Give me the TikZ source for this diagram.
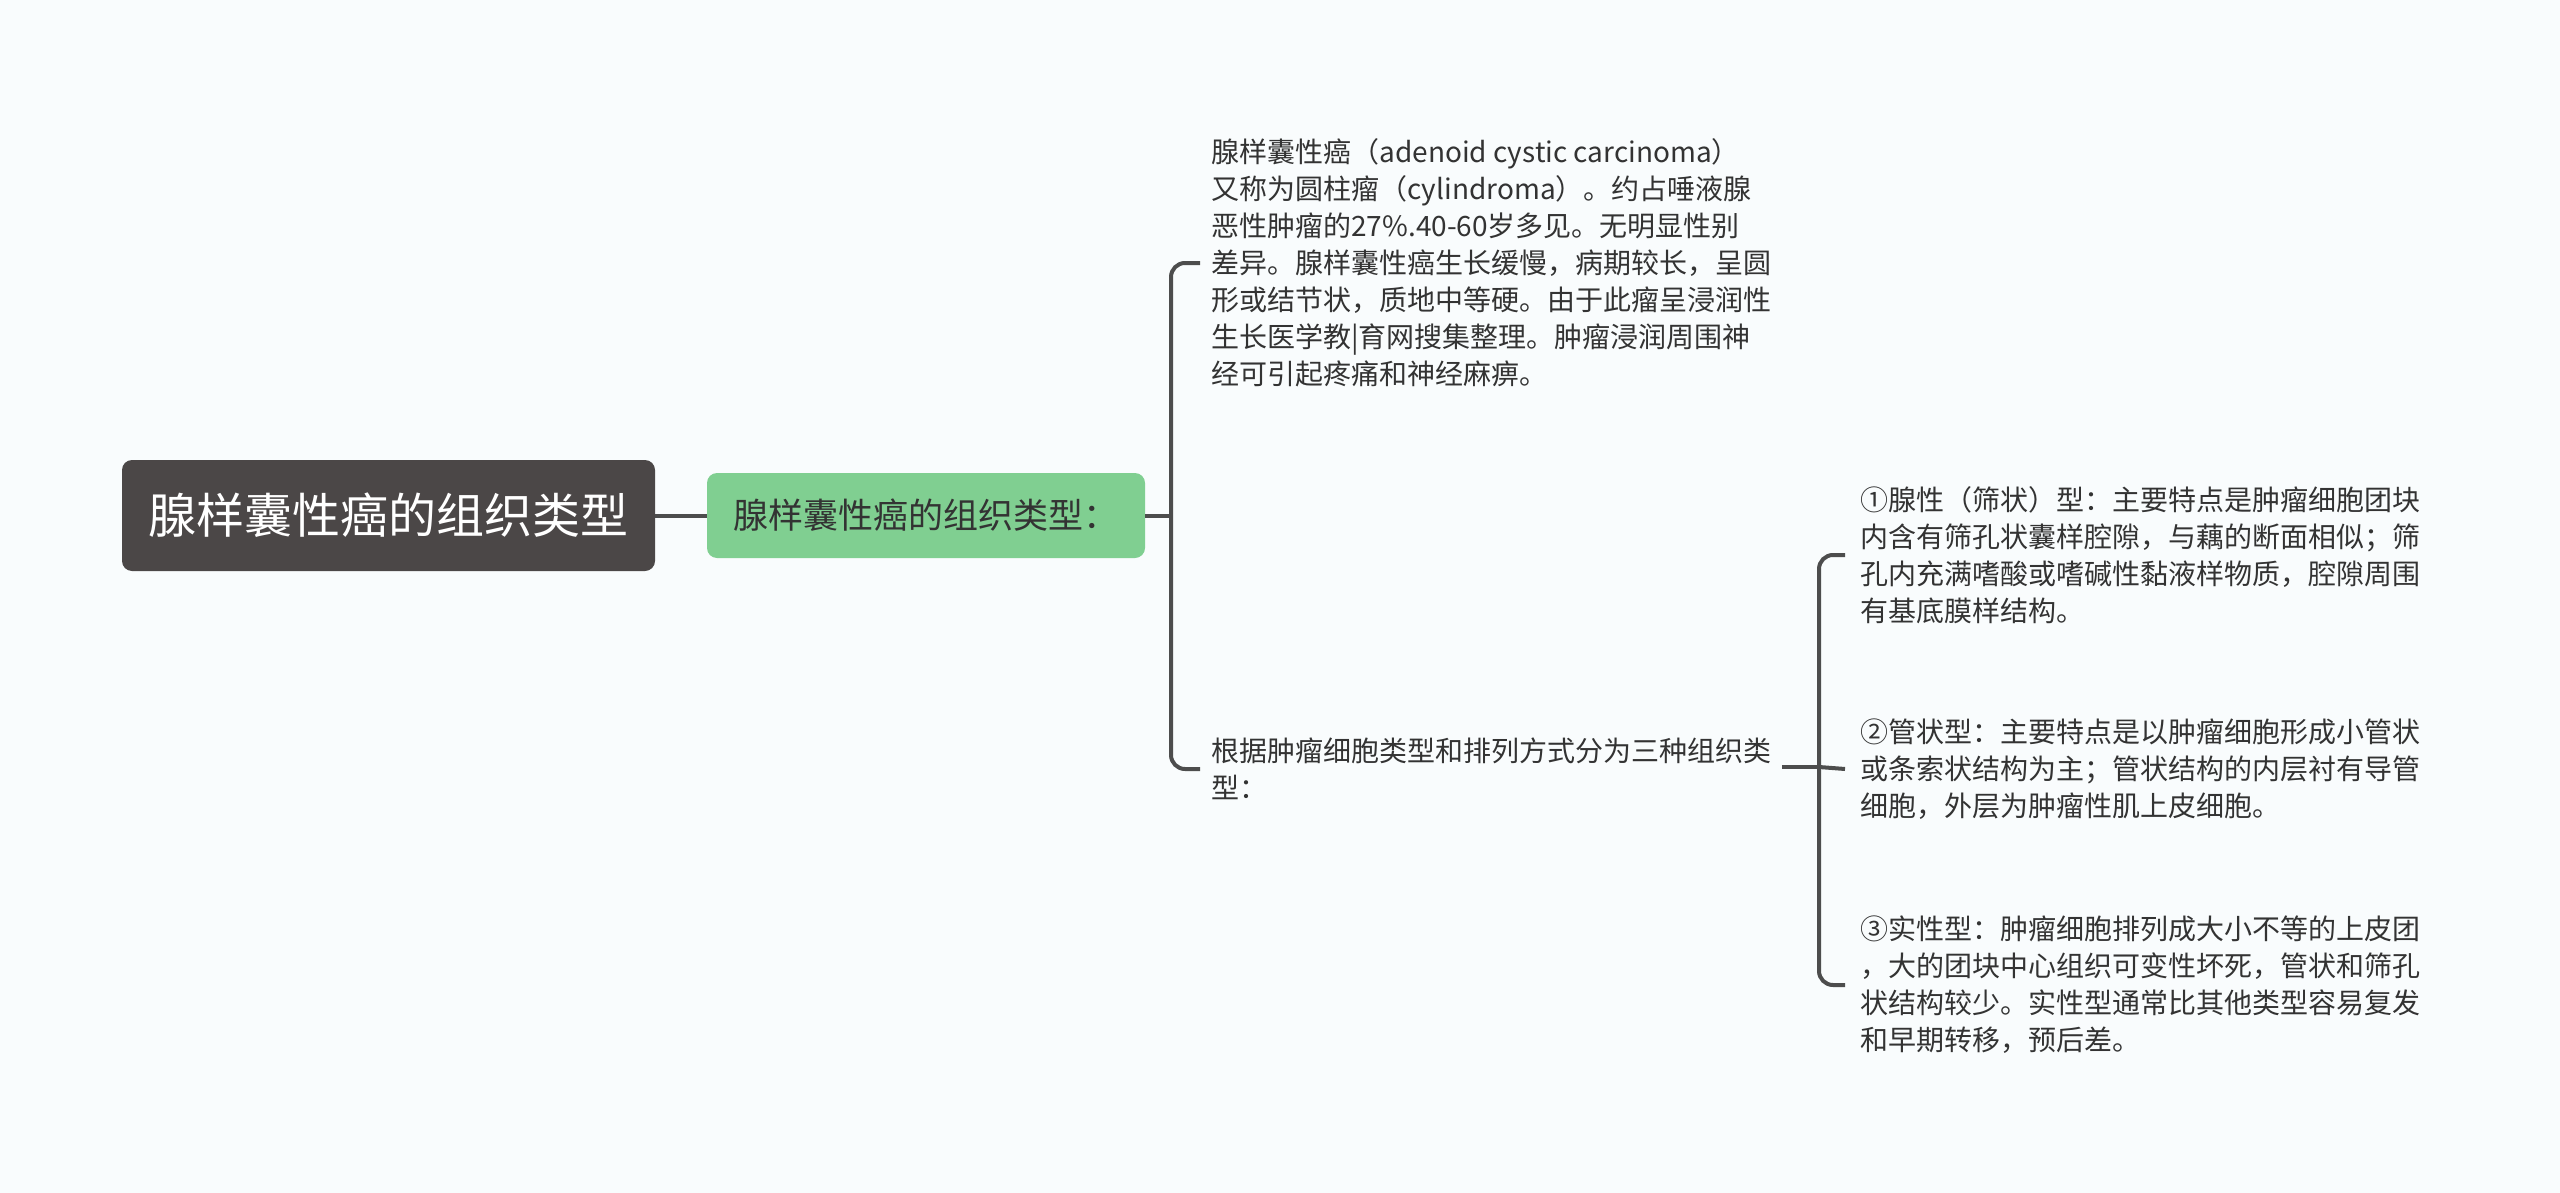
\documentclass[tikz,border=0pt]{standalone}
\usepackage{fontspec}
\newfontfamily\cjk{Noto Sans CJK SC}
\usetikzlibrary{positioning}

\definecolor{pagebg}{HTML}{F9FCFD}
\definecolor{rootfill}{HTML}{4B4747}
\definecolor{subfill}{HTML}{80CF91}
\definecolor{linkgray}{HTML}{4D4D4D}
\definecolor{textgray}{HTML}{333333}

\tikzset{
  rootbox/.style={fill=rootfill, rounded corners=5pt, text=white, minimum width=266.5pt,
    minimum height=55.5pt, font=\cjk\fontsize{24}{28}\selectfont},
  subbox/.style={fill=subfill, rounded corners=5pt, text=textgray, minimum width=219pt,
    minimum height=42.5pt, font=\cjk\fontsize{17.5}{21}\selectfont},
  leaf/.style={anchor=west, inner sep=0pt, align=left, text=textgray,
    font=\cjk\fontsize{14}{18.5}\selectfont},
  link/.style={draw=linkgray, line width=2pt, rounded corners=7pt},
}

\begin{document}
\begin{tikzpicture}[x=0.5pt, y=-0.5pt]
  \fill[pagebg] (0, 0) rectangle (2560, 1193);
  \useasboundingbox (0, 0) rectangle (2560, 1193);

  \node[rootbox] (root) at (388.5, 515.5) {腺样囊性癌的组织类型};
  \node[subbox] (sub) at (926, 515.5) {腺样囊性癌的组织类型：};

  \node[leaf] (desc) at (1211, 263) {腺样囊性癌（adenoid cystic carcinoma）\\
    又称为圆柱瘤（cylindroma）。约占唾液腺\\
    恶性肿瘤的27\%.40-60岁多见。无明显性别\\
    差异。腺样囊性癌生长缓慢，病期较长，呈圆\\
    形或结节状，质地中等硬。由于此瘤呈浸润性\\
    生长医学教|育网搜集整理。肿瘤浸润周围神\\
    经可引起疼痛和神经麻痹。};
  \node[leaf] (kinds) at (1211, 769) {根据肿瘤细胞类型和排列方式分为三种组织类\\
    型：};

  \node[leaf] (kindA) at (1860, 555) {①腺性（筛状）型：主要特点是肿瘤细胞团块\\
    内含有筛孔状囊样腔隙，与藕的断面相似；筛\\
    孔内充满嗜酸或嗜碱性黏液样物质，腔隙周围\\
    有基底膜样结构。};
  \node[leaf] (kindB) at (1860, 769) {②管状型：主要特点是以肿瘤细胞形成小管状\\
    或条索状结构为主；管状结构的内层衬有导管\\
    细胞，外层为肿瘤性肌上皮细胞。};
  \node[leaf] (kindC) at (1860, 985) {③实性型：肿瘤细胞排列成大小不等的上皮团\\
    ，大的团块中心组织可变性坏死，管状和筛孔\\
    状结构较少。实性型通常比其他类型容易复发\\
    和早期转移，预后差。};

  % connectors
  \coordinate (j1) at (1171, 515.5);
  \coordinate (j2) at (1819, 767);

  \draw[link] (root.east) -- (sub.west);
  \draw[link] (sub.east) -- (j1);
  \draw[link] ([xshift=-5.5pt]desc.west) -| (j1) |- ([xshift=-5.5pt]kinds.west);

  \draw[link] ([xshift=5pt]kinds.east |- j2) -- (j2);
  \draw[link] ([xshift=-7.5pt]kindA.west) -| (j2) |- ([xshift=-7.5pt]kindC.west);
  \draw[link] (j2) -- ([xshift=-7.5pt]kindB.west);
\end{tikzpicture}
\end{document}
